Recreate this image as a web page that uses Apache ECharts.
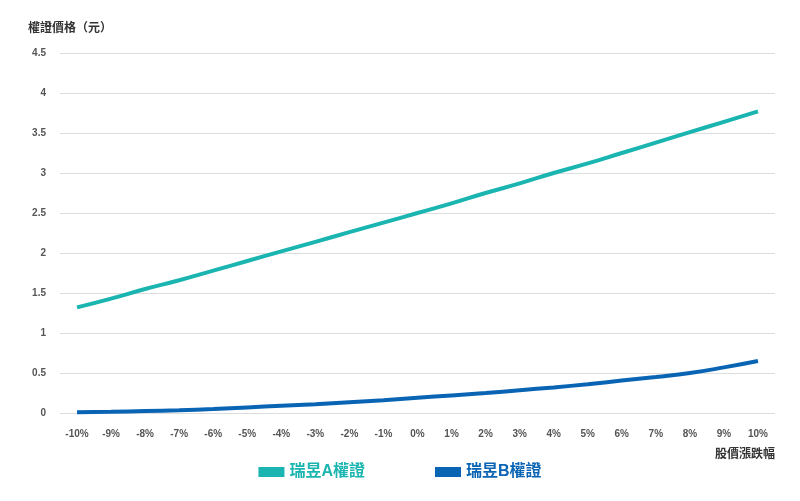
<!DOCTYPE html>
<html><head><meta charset="utf-8">
<script src="https://cdn.jsdelivr.net/npm/echarts@6/dist/echarts.min.js"></script>
<style>html,body{margin:0;padding:0;background:#fff}#c{width:800px;height:501px}</style>
</head><body><div id="c"></div>
<script>
var categories=['-10%','-9%','-8%','-7%','-6%','-5%','-4%','-3%','-2%','-1%','0%','1%','2%','3%','4%','5%','6%','7%','8%','9%','10%'];
var seriesA=[1.32,1.43,1.55,1.66,1.78,1.90,2.02,2.14,2.26,2.38,2.50,2.62,2.75,2.87,3.00,3.12,3.25,3.38,3.51,3.64,3.77];
var seriesB=[0.01,0.015,0.025,0.035,0.05,0.07,0.09,0.11,0.135,0.16,0.19,0.22,0.25,0.285,0.32,0.36,0.405,0.45,0.50,0.57,0.65];
var yTicks=[0,0.5,1,1.5,2,2.5,3,3.5,4,4.5];
var font='"Liberation Sans","Noto Sans CJK TC",sans-serif';
var chart=echarts.init(document.getElementById('c'));
chart.setOption({
  animation:false,
  textStyle:{fontFamily:font},
  grid:{left:60,right:25,top:53,bottom:88},
  legend:{bottom:16,left:'center',itemWidth:26,itemHeight:10,itemGap:70,icon:'rect',
    textStyle:{fontSize:16,fontWeight:'bold',fontFamily:font},
    data:[{name:'瑞昱A權證',textStyle:{color:'#1ab5b0'}},{name:'瑞昱B權證',textStyle:{color:'#0a64b4'}}]},
  xAxis:{type:'category',data:categories,boundaryGap:true,
    name:'股價漲跌幅',nameLocation:'end',nameGap:0,
    nameTextStyle:{fontSize:12,fontWeight:'bold',color:'#333',align:'right',verticalAlign:'top',padding:[36,0,0,0]},
    axisLine:{show:false},axisTick:{show:false},
    axisLabel:{interval:0,fontSize:10,color:'#555',fontWeight:'bold',margin:16}},
  yAxis:{type:'value',min:0,max:4.5,interval:0.5,
    name:'權證價格（元）',nameLocation:'end',nameGap:18,
    nameTextStyle:{fontSize:12,fontWeight:'bold',color:'#333',align:'left',padding:[0,0,0,-32]},
    axisLabel:{fontSize:10,color:'#555',fontWeight:'bold',margin:14,formatter:function(v){return yTicks.indexOf(v)>=0?String(v):'';}},
    splitLine:{lineStyle:{color:'#ddd'}}},
  series:[
    {name:'瑞昱A權證',type:'line',data:seriesA,smooth:true,symbol:'none',lineStyle:{width:4,color:'#1ab5b0'},itemStyle:{color:'#1ab5b0'}},
    {name:'瑞昱B權證',type:'line',data:seriesB,smooth:true,symbol:'none',lineStyle:{width:4,color:'#0a64b4'},itemStyle:{color:'#0a64b4'}}
  ]
});
</script></body></html>
